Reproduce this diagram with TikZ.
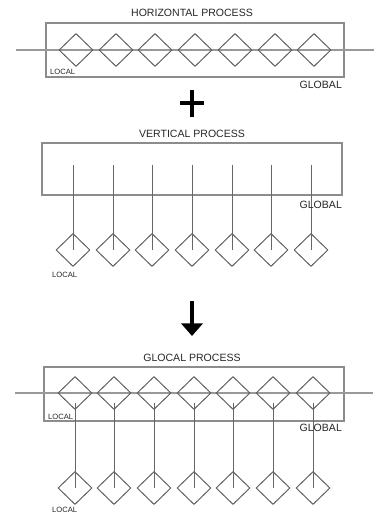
\documentclass[tikz,border=0pt]{standalone}
\usepackage{fontspec}
\setmainfont{Liberation Sans}
\usetikzlibrary{shapes.geometric,arrows.meta}

\begin{document}
\begin{tikzpicture}[x=0.03cm,y=-0.03cm,
  frame/.style={draw=black!45,line width=1pt},
  through/.style={draw=black!40,line width=1.5pt},
  stem/.style={draw=black!60,line width=0.7pt},
  unit node/.style={diamond,draw=black!65,line width=0.8pt,minimum width=1.02cm,minimum height=0.99cm,inner sep=0pt},
  title/.style={font=\fontsize{9}{10}\selectfont,text=black!85},
  tag/.style={font=\fontsize{9}{10}\selectfont,text=black!85,anchor=east},
  small tag/.style={font=\fontsize{6.5}{7}\selectfont,text=black!85,anchor=west}]

  \useasboundingbox (0,0) rectangle (382,516);

  % horizontal process
  \node[title] (htitle) at (192,13) {HORIZONTAL PROCESS};
  \draw[frame] (46,23) rectangle (344,77);
  \coordinate (hl) at (16,50);
  \coordinate (hr) at (374,50);
  \path (hl) edge[through] (hr);
  \foreach \x/\n in {76/1,116/2,155/3,195/4,235/5,275/6,314/7}
    \node[unit node] (h\n) at (\x,50) {};
  \node[small tag] (hlocal) at (46,72) {LOCAL};
  \node[tag] (hglobal) at (346,85) {GLOBAL};

  % plus
  \draw[line width=2.8pt] (180,103) -- (204,103) (192,90) -- (192,117);

  % vertical process
  \node[title] (vtitle) at (192,134) {VERTICAL PROCESS};
  \draw[frame] (42,143) rectangle (342,195);
  \foreach \x/\n in {73/1,113/2,152/3,192/4,232/5,271/6,311/7}{
    \coordinate (vs\n) at (\x,165);
    \node[unit node] (v\n) at (\x,250) {};
    \path (vs\n) edge[stem] (v\n.center);
  }
  \node[tag] (vglobal) at (346,205) {GLOBAL};
  \node[small tag] (vlocal) at (48,275) {LOCAL};

  % result
  \draw[line width=2.6pt,-{Triangle[length=0.38cm,width=0.64cm]}] (192,301) -- (192,336);

  % glocal process
  \node[title] (gtitle) at (192,358) {GLOCAL PROCESS};
  \draw[frame] (44,367) rectangle (344,421);
  \coordinate (gl) at (15,393);
  \coordinate (gr) at (373,393);
  \path (gl) edge[through] (gr);
  \foreach \x/\n in {75/1,114/2,154/3,194/4,233/5,273/6,313/7}{
    \node[unit node] (g\n) at (\x,393) {};
    \coordinate (gs\n) at (\x,403);
    \node[unit node] (l\n) at (\x,488) {};
    \path (gs\n) edge[stem] (l\n.center);
  }
  \node[small tag] (glocal) at (44,417) {LOCAL};
  \node[tag] (gglobal) at (346,428) {GLOBAL};
  \node[small tag] (llocal) at (48,510) {LOCAL};
\end{tikzpicture}
\end{document}
